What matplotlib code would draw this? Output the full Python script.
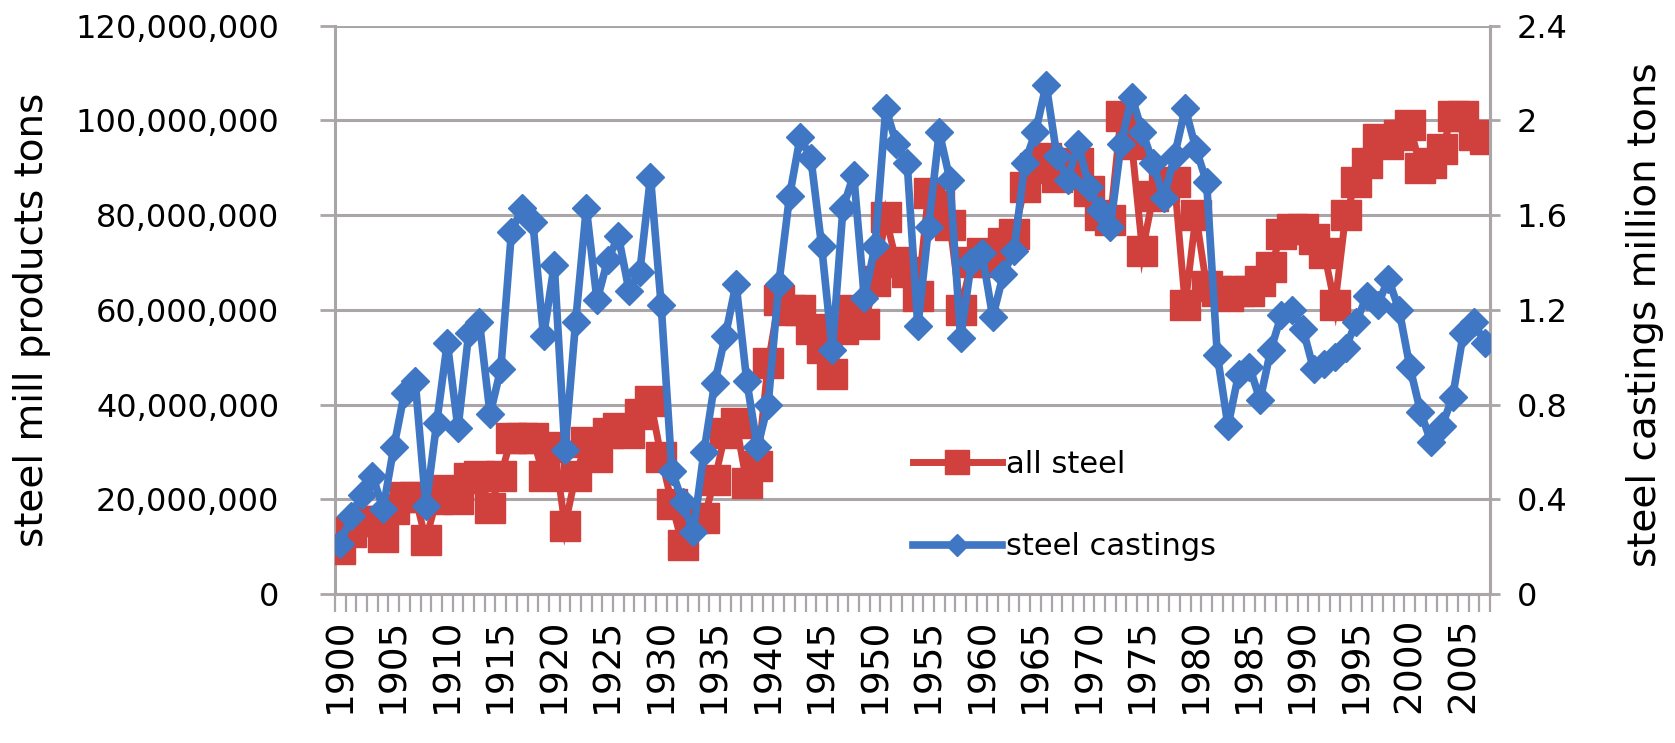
import numpy as np
import matplotlib
matplotlib.use("Agg")
import matplotlib.pyplot as plt
from matplotlib.ticker import FixedLocator, FuncFormatter

# ---------------- data ----------------
years = list(range(1900, 2008))

all_steel_millions = [
    9.4, 13, 15.5, 15.5, 12, 18, 20.5, 20.5, 11.4, 20,
    22, 20, 24.5, 25, 18.2, 25, 33, 33, 33, 25,
    31, 14.4, 25, 32, 29, 34, 35, 34, 38, 40.7,
    29, 19, 10.3, 16, 16, 24, 34, 36, 23.5, 27,
    48.7, 62, 60, 60, 56, 52, 46.4, 56, 60, 57,
    66, 79.6, 70, 68, 63, 84.6, 82, 78, 60, 70,
    72, 70, 74, 76, 86, 90, 92, 88, 90, 91,
    85, 80, 79, 101, 95, 72.5, 84, 86, 87, 61,
    80, 65, 64, 63, 64, 64, 66, 69, 76, 77,
    77, 75, 72, 61, 80, 87, 91, 96, 95, 97,
    99, 90, 91, 94, 101, 101, 97, 96,
]

steel_castings = [
    0.21, 0.33, 0.42, 0.50, 0.36, 0.62, 0.85, 0.90, 0.37, 0.72,
    1.06, 0.70, 1.10, 1.15, 0.76, 0.95, 1.53, 1.63, 1.57, 1.09,
    1.39, 0.61, 1.15, 1.63, 1.24, 1.41, 1.51, 1.28, 1.36, 1.76,
    1.22, 0.52, 0.39, 0.26, 0.60, 0.89, 1.09, 1.31, 0.90, 0.62,
    0.80, 1.31, 1.68, 1.93, 1.84, 1.47, 1.03, 1.63, 1.77, 1.25,
    1.47, 2.05, 1.90, 1.82, 1.13, 1.55, 1.95, 1.75, 1.08, 1.40,
    1.44, 1.17, 1.35, 1.45, 1.82, 1.95, 2.15, 1.85, 1.75, 1.90,
    1.72, 1.62, 1.55, 1.90, 2.10, 1.95, 1.82, 1.67, 1.85, 2.05,
    1.88, 1.74, 1.01, 0.71, 0.93, 0.96, 0.82, 1.03, 1.18, 1.20,
    1.12, 0.95, 0.97, 1.00, 1.04, 1.15, 1.26, 1.22, 1.33, 1.20,
    0.96, 0.77, 0.64, 0.71, 0.83, 1.10, 1.15, 1.06,
]

left_ticks = [0, 20e6, 40e6, 60e6, 80e6, 100e6, 120e6]
right_ticks = [0, 0.4, 0.8, 1.2, 1.6, 2.0, 2.4]
label_every = 5

series_names = ["all steel", "steel castings"]
left_title = "steel mill products tons"
right_title = "steel castings million tons"

# ---------------- style ----------------
RED = "#D0403C"
BLUE = "#3F77C4"
GRID = "#A9A5A8"

W, H = 1675, 743
fig = plt.figure(figsize=(W / 100, H / 100), dpi=100)
fig.patch.set_facecolor("white")

L, R, T, B = 335, 1490, 25.6, 594
ax = fig.add_axes([L / W, 1 - B / H, (R - L) / W, (B - T) / H])

n = len(years)
x = np.arange(n)
red_vals = np.array(all_steel_millions) * 1e6

ax.set_xlim(-0.5, n - 0.5)
ax.set_ylim(0, 120e6)
ax.yaxis.set_major_locator(FixedLocator(left_ticks))
ax.yaxis.set_major_formatter(FuncFormatter(lambda v, p: f"{v:,.0f}"))
ax.grid(axis="y", color=GRID, lw=2.2)
ax.set_axisbelow(True)

l1, = ax.plot(x, red_vals, color=RED, lw=5, marker="s", ms=21,
              mfc=RED, mec=RED, solid_joinstyle="miter", zorder=3)

ax2 = ax.twinx()
ax2.set_ylim(0, 2.4)
ax2.yaxis.set_major_locator(FixedLocator(right_ticks))
ax2.yaxis.set_major_formatter(FuncFormatter(lambda v, p: f"{v:g}"))
l2, = ax2.plot(x, steel_castings, color=BLUE, lw=5.5, marker="D", ms=14,
               mfc=BLUE, mec=BLUE, zorder=3)

# x axis ticks
label_pos = [i for i in range(n) if (years[i] - years[0]) % label_every == 0]
ax.set_xticks(label_pos)
ax.set_xticklabels([str(years[i]) for i in label_pos], rotation=90, fontsize=27)
ax.set_xticks(np.arange(-0.5, n, 1.0), minor=True)
ax.tick_params(axis="x", which="major", length=0, pad=17)
ax.tick_params(axis="x", which="minor", length=13, width=1.6, color=GRID)

ax.tick_params(axis="y", which="major", length=11, width=2, color=GRID,
               labelsize=23, pad=29)
ax2.tick_params(axis="y", which="major", length=7, width=2, color=GRID,
                labelsize=23, pad=12)

for a in (ax, ax2):
    for s in a.spines.values():
        s.set_color(GRID)
        s.set_linewidth(2.2)
    a.spines["top"].set_visible(False)
ax2.spines["left"].set_visible(False)
ax2.spines["bottom"].set_visible(False)

fig.text(32 / W, 1 - 320 / H, left_title, rotation=90, ha="center",
         va="center", fontsize=28)
fig.text(1645 / W, 1 - 315 / H, right_title, rotation=90, ha="center",
         va="center", fontsize=28)

leg = ax2.legend([l1, l2], series_names, loc="upper left",
                 bbox_to_anchor=(913 / W, 1 - 450 / H),
                 bbox_transform=fig.transFigure, frameon=False,
                 fontsize=22, handlelength=2.9, handletextpad=0.15,
                 labelspacing=1.75, borderpad=0, borderaxespad=0,
                 markerscale=0.8)

fig.savefig("out.png", dpi=100, facecolor="white")
